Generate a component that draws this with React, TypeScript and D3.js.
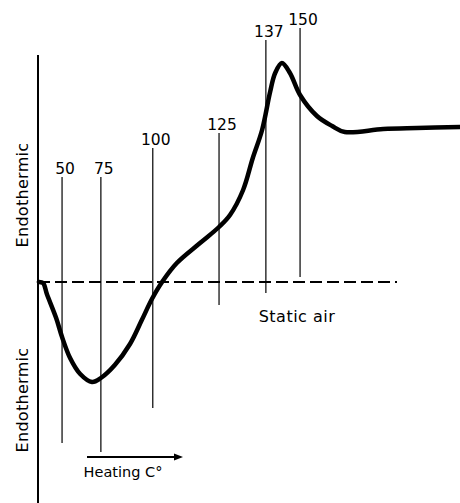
import React from "react";
import * as d3 from "d3";

// DTA trace: heating time (arbitrary units) vs. differential signal (baseline = 0)
const timeValues = [
  0.2, 1.2, 2.1, 4.3, 5.7, 7.6, 10.0, 12.8, 14.9, 18.2, 21.8, 24.6, 27.0, 29.4,
  32.9, 38.4, 42.9, 45.5, 48.6, 50.9, 53.1, 55.0, 56.2, 57.8, 59.7, 62.1, 66.1,
  69.7, 72.7, 81.8, 89.8, 100,
];
const signalValues = [
  0, -1, -12, -36, -55, -76, -92, -100, -96, -83, -62, -38, -17, 0,
  19, 39, 55, 67, 92, 124, 152, 190, 209, 219, 209, 187, 166,
  156, 150, 153, 154, 155,
];

// Temperature markers (°C) and where they fall on the time axis
const markerTemps = ["50", "75", "100", "125", "137", "150"];
const markerTimes = [5.7, 14.9, 27.2, 42.9, 54.0, 62.1];
const markerTop = [105, 105, 134, 149, 242, 254];
const markerBottom = [-161, -170, -126, -23, -11, 5];

const axisLabel = "Endothermic";
const heatingLabel = "Heating C°";
const atmosphereLabel = "Static air";

const W = 460;
const H = 503;
const FONT = "'DejaVu Sans', sans-serif";

export default function App() {
  const x = d3.scaleLinear().domain([0, 100]).range([38, 460]);
  const y = d3.scaleLinear().domain([-220, 270]).range([502, 12]);

  const points = timeValues.map((t, i) => [t, signalValues[i]] as [number, number]);
  const line = d3
    .line<[number, number]>()
    .x((d) => x(d[0]))
    .y((d) => y(d[1]))
    .curve(d3.curveCatmullRom.alpha(0.5));

  const y0 = y(0);
  const axisX = x(0);

  return (
    <svg
      width={W}
      height={H}
      viewBox={`0 0 ${W} ${H}`}
      style={{ position: "absolute", left: 0, top: 0, background: "#fff" }}
    >
      <rect width={W} height={H} fill="#fff" />

      {/* vertical signal axis */}
      <line x1={axisX} x2={axisX} y1={55} y2={H} stroke="#000" strokeWidth={2} />

      {/* dashed baseline */}
      <line
        x1={axisX}
        x2={397}
        y1={y0}
        y2={y0}
        stroke="#000"
        strokeWidth={2}
        strokeDasharray="12,5"
      />

      {/* temperature marker lines with labels */}
      {markerTemps.map((label, i) => {
        const mx = x(markerTimes[i]);
        const top = y(markerTop[i]);
        return (
          <g key={label}>
            <line
              x1={mx}
              x2={mx}
              y1={top}
              y2={y(markerBottom[i])}
              stroke="#000"
              strokeWidth={1.2}
            />
            <text
              x={mx + 3}
              y={top - 3}
              textAnchor="middle"
              fontFamily={FONT}
              fontSize={15.5}
              fill="#000"
            >
              {label}
            </text>
          </g>
        );
      })}

      {/* DTA curve */}
      <path
        d={line(points) || ""}
        fill="none"
        stroke="#000"
        strokeWidth={4.5}
        strokeLinejoin="round"
        strokeLinecap="round"
      />

      {/* axis labels */}
      <text
        transform={`translate(28,195) rotate(-90)`}
        textAnchor="middle"
        fontFamily={FONT}
        fontSize={16}
        letterSpacing={0.3}
        fill="#000"
      >
        {axisLabel}
      </text>
      <text
        transform={`translate(28,400) rotate(-90)`}
        textAnchor="middle"
        fontFamily={FONT}
        fontSize={16}
        letterSpacing={0.3}
        fill="#000"
      >
        {axisLabel}
      </text>

      {/* heating direction arrow */}
      <line x1={87} x2={176} y1={457} y2={457} stroke="#000" strokeWidth={2} />
      <path d="M174,453.5 L183,457 L174,460.5 Z" fill="#000" />
      <text
        x={123}
        y={477}
        textAnchor="middle"
        fontFamily={FONT}
        fontSize={14.5}
        fill="#000"
      >
        {heatingLabel}
      </text>

      <text
        x={297}
        y={322}
        textAnchor="middle"
        fontFamily={FONT}
        fontSize={16}
        letterSpacing={0.5}
        fill="#000"
      >
        {atmosphereLabel}
      </text>
    </svg>
  );
}
